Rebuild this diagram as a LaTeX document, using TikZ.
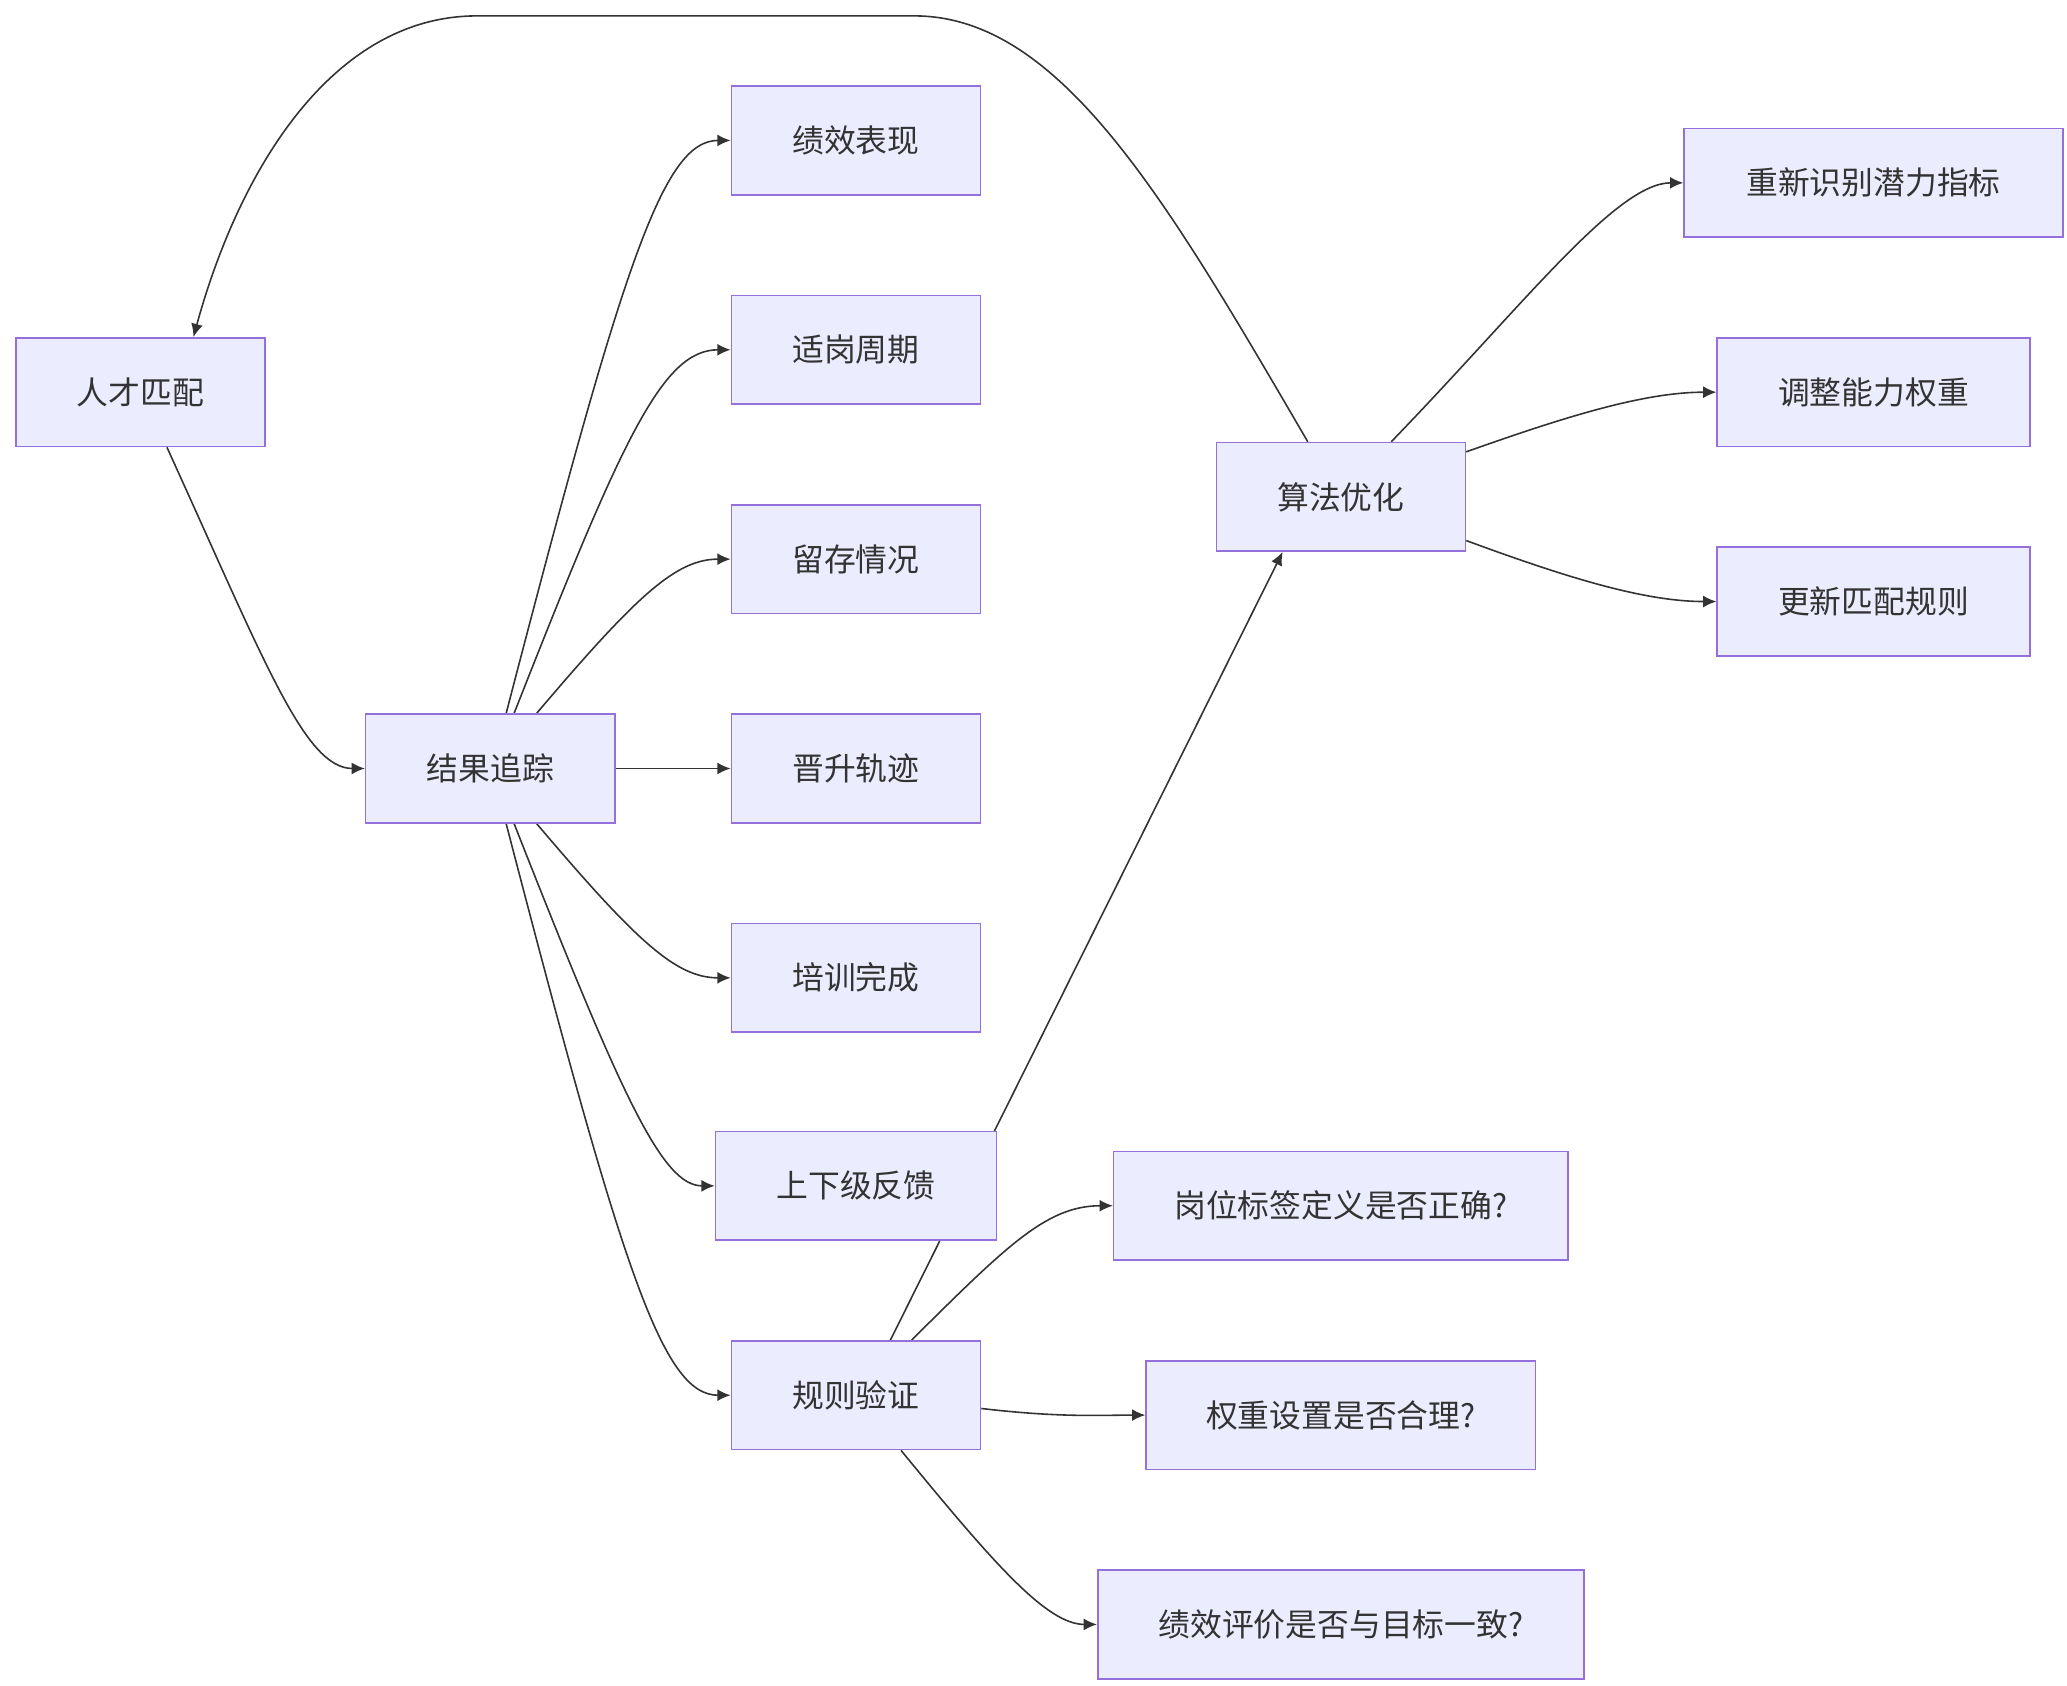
\documentclass[tikz,border=0pt]{standalone}
\usepackage{fontspec}
\setmainfont{Noto Sans CJK SC}
\usetikzlibrary{arrows.meta,backgrounds}
\definecolor{nfill}{HTML}{ECECFF}
\definecolor{nborder}{HTML}{9370DB}
\definecolor{ln}{HTML}{333333}
\begin{document}
\begin{tikzpicture}[x=0.5pt,y=-0.5pt,
  box/.style={draw=nborder,fill=nfill,line width=0.6pt,minimum height=41pt,inner sep=0pt,font=\fontsize{12}{14}\selectfont,text=ln},
  edge/.style={draw=ln,line width=0.6pt,-{Latex[length=5pt,width=4.5pt]}}]
\useasboundingbox (0,0) rectangle (1560,1272);
\node[box,minimum width=94pt] (rc) at (106,296) {人才匹配};
\node[box,minimum width=94pt] (jg) at (370,580) {结果追踪};
\node[box,minimum width=94pt] (a1) at (646,106) {绩效表现};
\node[box,minimum width=94pt] (a2) at (646,264) {适岗周期};
\node[box,minimum width=94pt] (a3) at (646,422) {留存情况};
\node[box,minimum width=94pt] (a4) at (646,580) {晋升轨迹};
\node[box,minimum width=94pt] (a5) at (646,738) {培训完成};
\node[box,minimum width=106pt] (a6) at (646,895) {上下级反馈};
\node[box,minimum width=94pt] (gz) at (646,1053) {规则验证};
\node[box,minimum width=94pt] (sf) at (1012,375) {算法优化};
\node[box,minimum width=143pt] (b1) at (1414,138) {重新识别潜力指标};
\node[box,minimum width=118pt] (b2) at (1414,296) {调整能力权重};
\node[box,minimum width=118pt] (b3) at (1414,454) {更新匹配规则};
\node[box,minimum width=171.5pt] (c1) at (1012,910) {岗位标签定义是否正确?};
\node[box,minimum width=147pt] (c2) at (1012,1068) {权重设置是否合理?};
\node[box,minimum width=183.5pt] (c3) at (1012,1226) {绩效评价是否与目标一致?};
\begin{scope}[on background layer]
\draw[edge] (rc.south) ++(20,0) .. controls (200,500) and (230,580) .. (jg.west);
\draw[edge] (jg.north) ++(12,0) .. controls (470,200) and (500,106) .. (a1.west);
\draw[edge] (jg.north) ++(18,0) .. controls (470,330) and (500,264) .. (a2.west);
\draw[edge] (jg.north) ++(35,0) .. controls (480,450) and (510,422) .. (a3.west);
\draw[edge] (jg.east) -- (a4.west);
\draw[edge] (jg.south) ++(35,0) .. controls (480,710) and (510,738) .. (a5.west);
\draw[edge] (jg.south) ++(18,0) .. controls (470,830) and (500,895) .. (a6.west);
\draw[edge] (jg.south) ++(12,0) .. controls (470,960) and (500,1053) .. (gz.west);
\draw[edge] (gz.north) ++(26,0) -- ([xshift=-22]sf.south);
\draw[edge] (gz.north) ++(42,0) .. controls (760,940) and (790,910) .. (c1.west);
\draw[edge] (gz.east) ++(0,10) .. controls (800,1070) and (830,1068) .. (c2.west);
\draw[edge] (gz.south) ++(34,0) .. controls (750,1180) and (790,1226) .. (c3.west);
\draw[edge] (sf.north) ++(-25,0) .. controls (880,150) and (800,12) .. (690,12) -- (360,12) .. controls (250,12) and (180,130) .. ([xshift=20]rc.north);
\draw[edge] (sf.north) ++(38,0) .. controls (1150,230) and (1220,138) .. (b1.west);
\draw[edge] (sf.east) ++(0,-34) .. controls (1180,315) and (1240,296) .. (b2.west);
\draw[edge] (sf.east) ++(0,33) .. controls (1180,435) and (1240,454) .. (b3.west);
\end{scope}
\end{tikzpicture}
\end{document}
